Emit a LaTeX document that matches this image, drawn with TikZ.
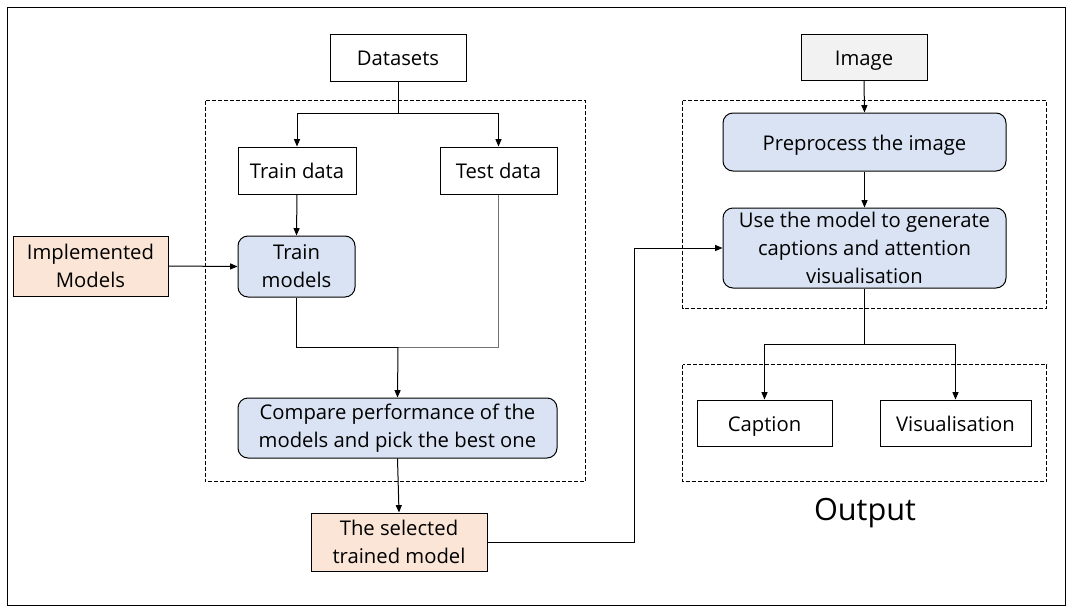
\documentclass[tikz,border=0pt]{standalone}
\usepackage{fontspec}
\setmainfont{Open Sans}
\usetikzlibrary{arrows.meta}
\definecolor{bluefill}{HTML}{DAE3F3}
\definecolor{orangefill}{HTML}{FBE5D6}
\definecolor{grayfill}{HTML}{F2F2F2}
\definecolor{lgray}{HTML}{707070}
\tikzset{
  base/.style={draw=black, line width=0.75pt, align=center, inner sep=0pt,
    font=\fontsize{15.2}{20.8}\selectfont, text=black},
  single/.style={text height=12.6pt, text depth=0pt},
  plainbox/.style={base, fill=white},
  roundbox/.style={base, fill=bluefill, rounded corners=7.5pt},
  orangebox/.style={base, fill=orangefill},
  graybox/.style={base, fill=grayfill},
  arr/.style={line width=0.75pt, -{Triangle[length=5.5pt,width=4.5pt]}},
  conn/.style={line width=0.75pt},
  dashbox/.style={line width=0.75pt, dash pattern=on 3pt off 1.5pt}
}
\begin{document}
\begin{tikzpicture}[x=0.75pt,y=-0.75pt]
\useasboundingbox (0,0) rectangle (1072,611);
\draw[line width=0.75pt] (7,7) rectangle (1065,605);
% dashed groups
\draw[dashbox] (205,100.5) rectangle (585.5,481.5);
\draw[dashbox] (682.5,100.5) rectangle (1046.5,308);
\draw[dashbox] (682.5,364.5) rectangle (1046.5,481.5);
% nodes
\node[plainbox, single, minimum width=102pt, minimum height=35.25pt] (ds) at (398,57.5) {Datasets};
\node[plainbox, single, minimum width=88.5pt, minimum height=35.25pt] (trd) at (297,170.5) {Train data};
\node[plainbox, single, minimum width=87.75pt, minimum height=35.25pt] (ted) at (498.5,170.5) {Test data};
\node[roundbox, minimum width=87.75pt, minimum height=45.75pt] (tm) at (296.5,266.5) {Train\\models};
\node[orangebox, minimum width=116.25pt, minimum height=45pt] (im) at (90.5,266) {Implemented\\Models};
\node[roundbox, minimum width=239.25pt, minimum height=45pt] (cmp) at (397.5,428) {Compare performance of the\\models and pick the best one};
\node[orangebox, minimum width=132pt, minimum height=43.5pt] (sel) at (399,542) {The selected\\trained model};
\node[graybox, single, minimum width=94.5pt, minimum height=34.5pt] (img) at (864,57) {Image};
\node[roundbox, single, minimum width=212.25pt, minimum height=43.5pt] (pre) at (864.5,142) {Preprocess the image};
\node[roundbox, minimum width=212.25pt, minimum height=60pt] (um) at (864.5,248) {Use the model to generate\\captions and attention\\visualisation};
\node[plainbox, single, minimum width=101.25pt, minimum height=34.5pt] (cap) at (764.5,423) {Caption};
\node[plainbox, single, minimum width=113.25pt, minimum height=34.5pt] (vis) at (955.5,423) {Visualisation};
\node[font=\fontsize{23}{27}\selectfont, inner sep=0pt] (out) at (865,513) {Output};
% coordinates
\coordinate (s1) at (398,113.5);
\coordinate (m1) at (398,347);
\coordinate (bend) at (634.5,248);
\coordinate (s2) at (864.5,344.5);
% connectors
\draw[conn] (ds.south) -- (s1);
\draw[arr] (s1) -| (trd.north);
\draw[arr] (s1) -| (ted.north);
\draw[arr] (trd.south) -- (tm.north);
\draw[arr] (im.east) -- (tm.west);
\draw[conn] (tm.south) |- (m1);
\draw[conn, draw=lgray] (ted.south) |- (m1);
\draw[arr] (m1) -- (cmp.north);
\draw[arr] (cmp.south) -- (sel.north);
\draw[arr] (sel.east) -| (bend) -- (um.west);
\draw[arr] (img.south) -- (pre.north);
\draw[arr] (pre.south) -- (um.north);
\draw[conn] (um.south) -- (s2);
\draw[arr] (s2) -| (cap.north);
\draw[arr] (s2) -| (vis.north);
\end{tikzpicture}
\end{document}
